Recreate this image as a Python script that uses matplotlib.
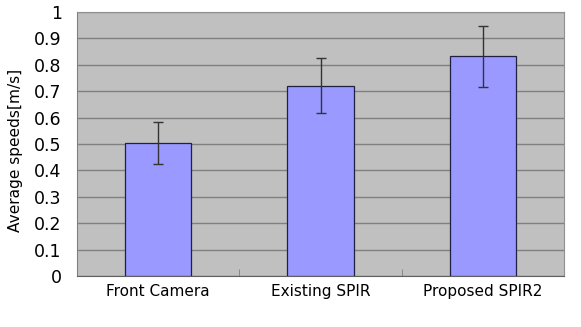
import matplotlib
matplotlib.use("Agg")
import matplotlib.pyplot as plt
import numpy as np

categories = ["Front Camera", "Existing SPIR", "Proposed SPIR2"]
speeds = [0.503, 0.721, 0.832]
errors = [0.08, 0.104, 0.115]
yticks = [0, 0.1, 0.2, 0.3, 0.4, 0.5, 0.6, 0.7, 0.8, 0.9, 1]
ytick_labels = ["0", "0.1", "0.2", "0.3", "0.4", "0.5", "0.6", "0.7", "0.8", "0.9", "1"]

fig = plt.figure(figsize=(5.81, 3.27), dpi=100)
ax = fig.add_axes([77 / 581, 1 - 276 / 327, 487 / 581, 264 / 327])
ax.set_facecolor("#c0c0c0")

x = np.arange(len(categories))
ax.bar(x, speeds, width=0.41, color="#9999ff", edgecolor="#202040",
       linewidth=0.9, zorder=3)
ax.errorbar(x, speeds, yerr=errors, fmt="none", ecolor="#333333",
            elinewidth=1.0, capsize=3.5, capthick=1.0, zorder=4)

ax.set_xlim(-0.5, 2.5)
ax.set_ylim(0, 1)
ax.set_yticks(yticks)
ax.set_yticklabels(ytick_labels, fontsize=12.5)
ax.yaxis.grid(True, color="#808080", linewidth=1.0, zorder=1)
ax.set_axisbelow(True)

ax.set_xticks(x)
ax.set_xticklabels(categories, fontsize=11)
ax.tick_params(axis="x", length=0, pad=6)
ax.tick_params(axis="y", length=0, pad=11)
ax.set_xticks([0.5, 1.5], minor=True)
ax.tick_params(axis="x", which="minor", direction="in", length=5, color="#808080")

for side in ["top", "right"]:
    ax.spines[side].set_color("#909090")
ax.spines["left"].set_color("#808080")
ax.spines["bottom"].set_color("#606060")

ax.set_ylabel("Average speeds[m/s]", fontsize=11.1)
ax.yaxis.set_label_coords(-54 / 487, (276 - 150) / 264)

fig.savefig("out.png", dpi=100, facecolor="white")
